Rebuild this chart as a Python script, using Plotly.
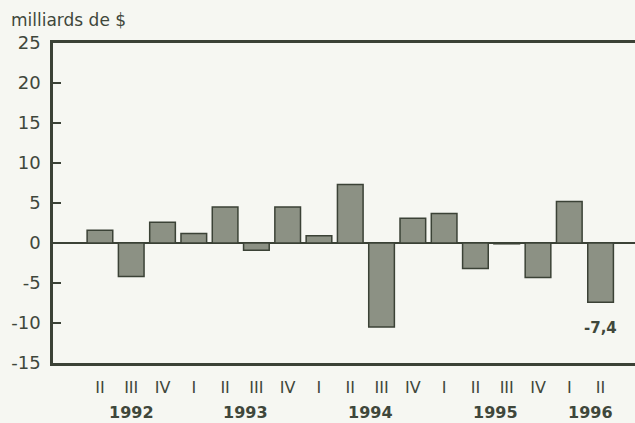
import plotly.graph_objects as go

quarters = ["II", "III", "IV", "I", "II", "III", "IV", "I", "II", "III", "IV",
            "I", "II", "III", "IV", "I", "II"]
values = [1.6, -4.2, 2.6, 1.2, 4.5, -0.9, 4.5, 0.9, 7.3, -10.5, 3.1,
          3.7, -3.2, -0.1, -4.3, 5.2, -7.4]
years = ["1992", "1993", "1994", "1995", "1996"]
year_pos = [1.02, 4.64, 8.64, 12.64, 15.68]
last_label = "-7,4"

x_idx = list(range(len(values)))

bg = "#f6f7f2"
ink = "#3f473b"
fill = "#8c9184"
edge = "#3b4236"
font = "DejaVu Sans, sans-serif"

fig = go.Figure()
fig.add_trace(go.Bar(
    x=x_idx, y=values, width=0.82,
    marker=dict(color=fill, line=dict(color=edge, width=1.5)),
    showlegend=False,
))

annotations = [
    dict(x=p, y=-0.156, xref="x", yref="paper", text="<b>%s</b>" % yr,
         showarrow=False, font=dict(family=font, size=16, color=ink),
         xanchor="center", yanchor="middle")
    for p, yr in zip(year_pos, years)
]
annotations.append(dict(x=-0.076, y=1.0, xref="paper", yref="paper",
                        text="milliards de $", showarrow=False,
                        font=dict(family=font, size=17, color=ink),
                        xanchor="left", yanchor="bottom", yshift=11))
annotations.append(dict(x=x_idx[-1], y=-10.6, xref="x", yref="y",
                        text="<b>%s</b>" % last_label, showarrow=False,
                        font=dict(family=font, size=15, color=ink),
                        xanchor="center", yanchor="middle"))

fig.update_layout(
    width=635, height=423,
    margin=dict(l=53, r=0, t=43, b=60),
    paper_bgcolor=bg, plot_bgcolor=bg,
    font=dict(family=font, color=ink),
    annotations=annotations,
    xaxis=dict(
        range=[-1.5, 17.1], tickmode="array", tickvals=x_idx, ticktext=quarters,
        showgrid=False, zeroline=False, showline=True, linecolor=edge,
        linewidth=2.5, mirror=True, ticks="", tickfont=dict(size=16, color=ink),
        ticklabelstandoff=8,
    ),
    yaxis=dict(
        range=[-15, 25], tickmode="array",
        tickvals=[-15, -10, -5, 0, 5, 10, 15, 20, 25],
        ticktext=["-15", "-10", "-5", "0", "5", "10", "15", "20", "25"],
        showgrid=False, zeroline=True, zerolinecolor=edge, zerolinewidth=2,
        showline=True, linecolor=edge, linewidth=2.5,
        ticks="inside", ticklen=8, tickwidth=2, tickcolor=edge,
        tickfont=dict(size=18, color=ink), ticklabelstandoff=6,
    ),
)

fig.write_html(
    "out.html",
    config={"displayModeBar": False},
    post_script="document.body.style.margin='0px';document.body.style.overflow='hidden';document.body.style.background='%s';" % bg,
)
